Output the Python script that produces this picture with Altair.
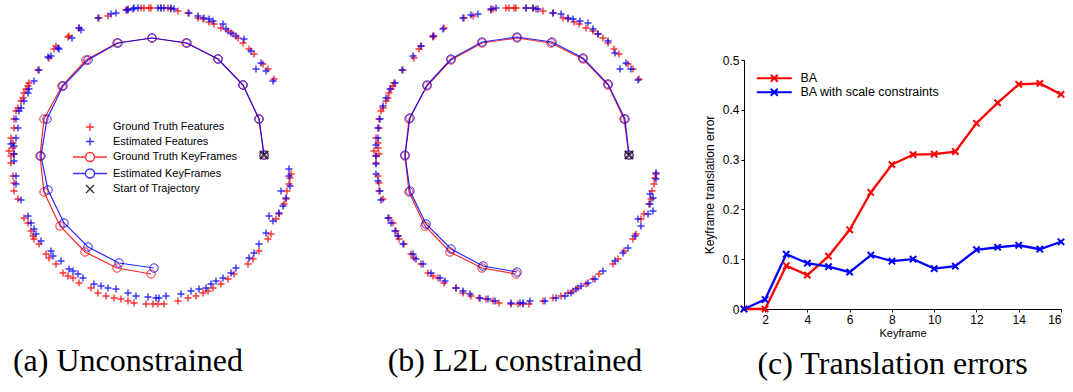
import altair as alt
import pandas as pd

# ---------------------------------------------------------------------------
# Panels (a) and (b): map features and keyframe trajectories, in image pixels
# (x to the right, y downwards).
# ---------------------------------------------------------------------------
gt_features = [
    (98, 17), (107, 15), (78, 27), (68, 35), (67, 36), (55, 45), (53, 48), (48, 57), (37, 69),
    (125, 9), (127, 8), (140, 7), (143, 7), (148, 7), (150, 7), (160, 7), (167, 7), (170, 8), (177, 10),
    (187, 12), (197, 17), (202, 18), (208, 21), (213, 23), (220, 27), (227, 30), (232, 33), (237, 37),
    (242, 42), (248, 48), (253, 53), (262, 63), (267, 68), (273, 78),
    (28, 82), (27, 85), (25, 88), (23, 92), (22, 97), (20, 100), (17, 107), (15, 110), (13, 118),
    (13, 127), (10, 137), (12, 142), (12, 147), (8, 150), (10, 155), (13, 153), (10, 162), (12, 175),
    (13, 182), (13, 190), (17, 198),
    (23, 217), (27, 222), (30, 230), (32, 235), (33, 238), (38, 243), (45, 253), (48, 257), (55, 263),
    (62, 272), (67, 275), (72, 277), (78, 282), (90, 287), (97, 292), (105, 295), (113, 297), (120, 298),
    (127, 300), (133, 302), (145, 303), (152, 303), (157, 303), (163, 303),
    (177, 300), (187, 297), (195, 295), (202, 292), (207, 290), (212, 287), (220, 283), (227, 278),
    (233, 273), (247, 263), (252, 258), (258, 250), (267, 238), (270, 233), (275, 218), (278, 213),
    (283, 203), (285, 198), (286, 190), (288, 183), (289, 177), (290, 173),
]

est_features_a = [
    (97, 17), (110, 13), (115, 12), (80, 29), (78, 27), (71, 37), (57, 47), (58, 48), (50, 55), (47, 56),
    (38, 69), (33, 80), (28, 88), (27, 92), (23, 100), (20, 107), (18, 110), (15, 118), (17, 127),
    (15, 137), (10, 143), (13, 145), (13, 153), (13, 160), (15, 175), (15, 183), (20, 199),
    (126, 9), (127, 9), (132, 8), (133, 7), (137, 7), (157, 7), (160, 7), (163, 7), (170, 7), (173, 8),
    (188, 12), (197, 15), (203, 17), (208, 18), (212, 20), (222, 23), (225, 28), (230, 32), (235, 35),
    (243, 38), (250, 50), (260, 62), (255, 68), (265, 70), (272, 80),
    (27, 215), (30, 222), (33, 228), (35, 233), (40, 240), (50, 250), (52, 255), (60, 260), (68, 268),
    (72, 270), (77, 273), (82, 277), (93, 283), (100, 285), (107, 287), (115, 288), (127, 292),
    (135, 295), (147, 296), (155, 297), (158, 297), (165, 295),
    (180, 293), (190, 290), (198, 288), (205, 287), (210, 283), (215, 280), (222, 277), (230, 272),
    (235, 267), (248, 257), (253, 252), (258, 243), (265, 232), (268, 215), (272, 220), (278, 212),
    (282, 205), (285, 197), (280, 190), (289, 185), (288, 175), (288, 168),
]

est_features_b = [
    (125, 8), (130, 7), (97, 17), (105, 14), (112, 13), (77, 28), (67, 35), (55, 45), (47, 55), (36, 69),
    (29, 82), (24, 88), (20, 97), (17, 105), (14, 118), (12, 127), (12, 137), (10, 144), (10, 155),
    (10, 163), (10, 173), (12, 180), (14, 190), (15, 199), (22, 217), (25, 222), (29, 230), (32, 235),
    (37, 243), (47, 253), (50, 258), (57, 263), (65, 272), (74, 277), (79, 280), (90, 287), (97, 290),
    (104, 293), (114, 297), (122, 298), (129, 300), (145, 302), (154, 302),
    (160, 7), (167, 7), (172, 8), (187, 12), (195, 13), (202, 17), (207, 18), (214, 20), (222, 22),
    (227, 28), (232, 33), (242, 40), (249, 52), (260, 62), (254, 68), (265, 68), (272, 79),
    (290, 172), (290, 178), (284, 193), (287, 197), (284, 203), (287, 210), (272, 218), (282, 213),
    (275, 225), (269, 235), (262, 247), (257, 252), (249, 260), (237, 270), (229, 278), (222, 282),
    (215, 285), (210, 288), (205, 292), (199, 295), (190, 297), (179, 300), (164, 300), (157, 302),
]

# Keyframe positions, from the start of the trajectory (keyframe 1) onwards
gt_keyframes = [
    (263, 154), (258, 118), (242, 84), (217, 58), (185, 42), (151, 37), (116, 42), (85, 59),
    (61, 85), (43, 118), (39, 155), (43, 191), (59, 225), (84, 251), (116, 267), (150, 273),
]
est_keyframes_a = [
    (263, 154), (258, 118), (242, 84), (217, 58), (186, 42), (151, 37), (117, 42), (87, 59),
    (62, 85), (46, 118), (40, 155), (47, 189), (63, 222), (87, 246), (118, 262), (153, 267),
]
est_keyframes_b = [
    (263, 154), (259, 118), (242, 83), (217, 57), (186, 41), (151, 36), (116, 41), (85, 58),
    (61, 84), (44, 117), (39, 154), (44, 190), (60, 223), (85, 248), (117, 265), (151, 271),
]

SERIES = ["Ground Truth Features", "Estimated Features", "Ground Truth KeyFrames",
          "Estimated KeyFrames", "Start of Trajectory"]
SERIES_COLORS = ["#ff0000", "#0000ff", "#ff0000", "#0000ff", "#000000"]

# Stroke-only symbol paths (unit coordinates scaled by the symbol size)
PLUS = "M-0.8,0H0.8M0,-0.8V0.8"
LINE_CIRCLE = "M-3.4,0H-0.9M-0.9,0A0.9,0.9 0 1,1 0.9,0A0.9,0.9 0 1,1 -0.9,0M0.9,0H3.4"
CROSS_X = "M-0.8,-0.8L0.8,0.8M-0.8,0.8L0.8,-0.8"
SERIES_SHAPES = [PLUS, PLUS, LINE_CIRCLE, LINE_CIRCLE, CROSS_X]

SANS = "Liberation Sans"
SERIF = "Liberation Serif"
CAPTION_SIZE = 32
NO_FRAME = alt.ViewBackground(stroke="transparent")


def points_frame(pairs, series):
    df = pd.DataFrame(pairs, columns=["x", "y"])
    df["series"] = series
    df["k"] = range(1, len(df) + 1)
    return df


def map_panel(est_features, est_keyframes, caption, cap_dx, show_legend):
    features = pd.concat([points_frame(gt_features, SERIES[0]),
                          points_frame(est_features, SERIES[1])])
    keyframes = pd.concat([points_frame(gt_keyframes, SERIES[2]),
                           points_frame(est_keyframes, SERIES[3])])
    start = points_frame(gt_keyframes[:1], SERIES[4])

    legend = alt.Legend(
        title=None, orient="none", legendX=83, legendY=120, padding=0,
        labelFont=SANS, labelFontSize=11, labelColor="#000000", labelOffset=17,
        symbolSize=100, symbolStrokeWidth=1.4, rowPadding=0.5,
    ) if show_legend else None

    xs = alt.X("x:Q", scale=alt.Scale(domain=[0, 300], nice=False, zero=False), axis=None)
    ys = alt.Y("y:Q", scale=alt.Scale(domain=[0, 312], nice=False, zero=False, reverse=True), axis=None)
    color = alt.Color("series:N", scale=alt.Scale(domain=SERIES, range=SERIES_COLORS), legend=legend)
    shape = alt.Shape("series:N", scale=alt.Scale(domain=SERIES, range=SERIES_SHAPES), legend=legend)

    feat_layer = alt.Chart(features).mark_point(
        filled=False, size=77, strokeWidth=1.4, opacity=0.8
    ).encode(x=xs, y=ys, color=color, shape=shape)

    kf_lines = alt.Chart(keyframes).mark_line(strokeWidth=1.2, opacity=0.85).encode(
        x=xs, y=ys, color=color, order="k:Q")
    kf_circles = alt.Chart(keyframes).mark_point(
        shape="circle", filled=False, size=70, strokeWidth=1, opacity=0.85
    ).encode(x=xs, y=ys, color=color)

    start_layer = alt.Chart(start).mark_point(filled=False, size=110, strokeWidth=2.5).encode(
        x=xs, y=ys, color=color, shape=shape)

    return alt.layer(feat_layer, kf_lines, kf_circles, start_layer, view=NO_FRAME).properties(
        width=300, height=312,
        title=alt.TitleParams(caption, orient="bottom", font=SERIF, fontSize=CAPTION_SIZE,
                              fontWeight="normal", color="#000000", offset=33, dx=cap_dx),
    )


panel_a = map_panel(est_features_a, est_keyframes_a, "(a) Unconstrained", -23, True)
panel_b = map_panel(est_features_b, est_keyframes_b, "(b) L2L constrained", -1, False)

# ---------------------------------------------------------------------------
# Panel (c): keyframe translation error per keyframe
# ---------------------------------------------------------------------------
keyframe_idx = list(range(1, 17))
err_ba = [0.0, 0.0, 0.087, 0.068, 0.106, 0.159, 0.234, 0.290, 0.310, 0.311, 0.316,
          0.373, 0.414, 0.451, 0.453, 0.431]
err_ba_scale = [0.0, 0.019, 0.110, 0.092, 0.085, 0.074, 0.108, 0.096, 0.100, 0.081, 0.086,
                0.119, 0.124, 0.128, 0.120, 0.135]
ERR_SERIES = ["BA", "BA with scale constraints"]

errors = pd.concat([
    pd.DataFrame({"keyframe": keyframe_idx, "error": err_ba, "method": ERR_SERIES[0]}),
    pd.DataFrame({"keyframe": keyframe_idx, "error": err_ba_scale, "method": ERR_SERIES[1]}),
])

LINE_X = "M-3.5,0H3.5M-0.7,-0.7L0.7,0.7M-0.7,0.7L0.7,-0.7"
X_MARK = "M-1,-1L1,1M-1,1L1,-1"

err_legend = alt.Legend(
    title=None, orient="none", legendX=24, legendY=71, padding=0,
    labelFont=SANS, labelFontSize=12.5, labelColor="#000000", labelOffset=20,
    symbolType=LINE_X, symbolSize=100, symbolStrokeWidth=2, rowPadding=-2,
)

ex = alt.X("keyframe:Q", scale=alt.Scale(domain=[1, 16], nice=False, zero=False),
           axis=alt.Axis(title="Keyframe", values=[2, 4, 6, 8, 10, 12, 14, 16], grid=False,
                         labelFont=SANS, labelFontSize=12, labelColor="#000000",
                         titleFont=SANS, titleFontSize=11, titleFontWeight="normal",
                         titleColor="#000000", titlePadding=2, tickSize=3,
                         domainColor="#000000", tickColor="#000000", labelPadding=2))
ey = alt.Y("error:Q", scale=alt.Scale(domain=[0, 0.5], nice=False, range=[308, 59]),
           axis=alt.Axis(title="Keyframe translation error", values=[0, 0.1, 0.2, 0.3, 0.4, 0.5],
                         labelExpr="datum.value == 0 ? '0' : format(datum.value, '.1f')",
                         grid=False, labelFont=SANS, labelFontSize=12, labelColor="#000000",
                         titleFont=SANS, titleFontSize=12, titleFontWeight="normal",
                         titleColor="#000000", titlePadding=6, tickSize=3,
                         domainColor="#000000", tickColor="#000000", labelPadding=2))
ecolor = alt.Color("method:N", scale=alt.Scale(domain=ERR_SERIES, range=["#ff0000", "#0000ff"]),
                   legend=err_legend)

err_lines = alt.Chart(errors).mark_line(strokeWidth=2.3).encode(x=ex, y=ey, color=ecolor)
err_points = alt.Chart(errors).mark_point(
    shape=X_MARK, filled=False, size=40, strokeWidth=2, opacity=1
).encode(x=ex, y=ey, color=ecolor)

panel_c = alt.layer(err_lines, err_points, view=NO_FRAME).properties(
    width=317, height=308,
    title=alt.TitleParams("(c) Translation errors", orient="bottom", font=SERIF, fontSize=CAPTION_SIZE,
                          fontWeight="normal", color="#000000", offset=11, dx=-10),
)

maps = alt.hconcat(panel_a, panel_b, spacing=63).resolve_scale(
    color="independent", shape="independent").resolve_legend(
    color="independent", shape="independent")

chart = alt.hconcat(maps, panel_c, spacing=35).resolve_scale(
    color="independent", shape="independent").resolve_legend(
    color="independent", shape="independent").properties(padding=0).configure_view(
    stroke="transparent").configure(background="#ffffff")

chart.save("out.html", embed_options={"renderer": "svg", "actions": False})
